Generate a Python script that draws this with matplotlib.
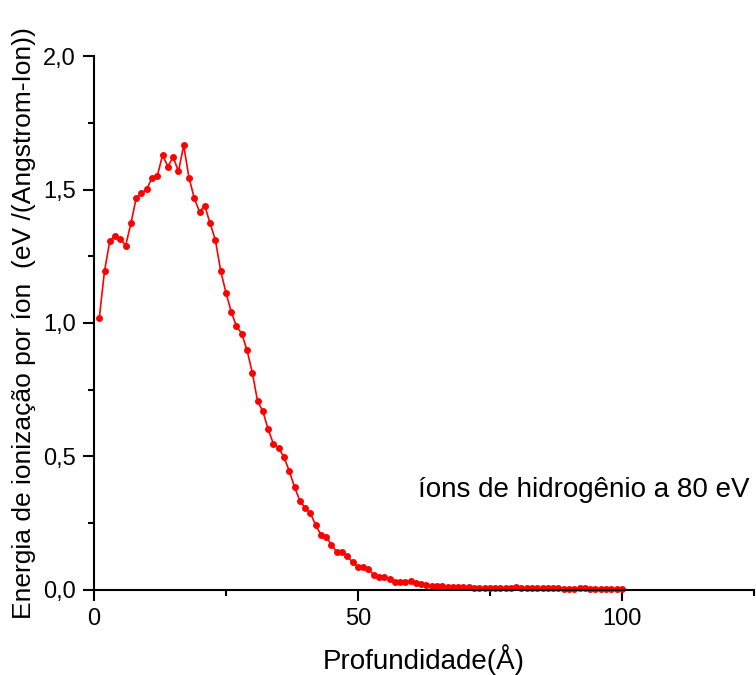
import numpy as np
import matplotlib
matplotlib.use("Agg")
import matplotlib.pyplot as plt
from matplotlib.ticker import MultipleLocator, FuncFormatter

plt.rcParams['font.family'] = ['Liberation Sans', 'DejaVu Sans']

depth = list(range(1, 101))
energy = [
    1.018, 1.195, 1.307, 1.326, 1.315, 1.290, 1.373, 1.468, 1.486, 1.501,
    1.544, 1.551, 1.629, 1.586, 1.622, 1.568, 1.665, 1.544, 1.468, 1.416,
    1.439, 1.373, 1.311, 1.196, 1.114, 1.042, 0.988, 0.960, 0.898, 0.814,
    0.707, 0.669, 0.602, 0.547, 0.532, 0.497, 0.446, 0.385, 0.335, 0.308,
    0.288, 0.243, 0.207, 0.197, 0.170, 0.142, 0.143, 0.127, 0.104, 0.087,
    0.085, 0.078, 0.057, 0.050, 0.047, 0.041, 0.029, 0.029, 0.030, 0.034,
    0.025, 0.021, 0.019, 0.016, 0.015, 0.013, 0.012, 0.011, 0.011, 0.010,
    0.010, 0.009, 0.009, 0.008, 0.008, 0.008, 0.007, 0.007, 0.007, 0.010,
    0.007, 0.006, 0.006, 0.006, 0.006, 0.006, 0.007, 0.006, 0.005, 0.005,
    0.005, 0.007, 0.006, 0.005, 0.005, 0.005, 0.004, 0.004, 0.004, 0.004,
]

fig = plt.figure(figsize=(7.56, 6.75), dpi=100)
ax = fig.add_axes([0.1243, 0.126, 0.8727, 0.791])

ax.plot(depth, energy, '-o', color='#ff0000', linewidth=1.2,
        markersize=5, markeredgewidth=0, clip_on=False)

ax.set_xlim(0, 125)
ax.set_ylim(0, 2.0)
ax.xaxis.set_major_locator(MultipleLocator(50))
ax.xaxis.set_minor_locator(MultipleLocator(25))
ax.yaxis.set_major_locator(MultipleLocator(0.5))
ax.yaxis.set_minor_locator(MultipleLocator(0.25))
ax.yaxis.set_major_formatter(FuncFormatter(lambda v, p: f"{v:.1f}".replace('.', ',')))
ax.xaxis.set_major_formatter(FuncFormatter(lambda v, p: f"{v:.0f}"))

ax.tick_params(which='major', direction='out', length=8, width=1.5, labelsize=17, pad=5)
ax.tick_params(which='minor', direction='out', length=4, width=1.5)

for side in ['top', 'right']:
    ax.spines[side].set_visible(False)
for side in ['left', 'bottom']:
    ax.spines[side].set_linewidth(1.5)

ax.set_xlabel("Profundidade(Å)", fontsize=20, labelpad=10)
ax.set_ylabel("Energia de ionização por íon  (eV /(Angstrom-Ion))", fontsize=19, labelpad=5)

ax.text(61.4, 0.375, "íons de hidrogênio a 80 eV", fontsize=20, va='center', ha='left')

fig.savefig("out.png", dpi=100)
